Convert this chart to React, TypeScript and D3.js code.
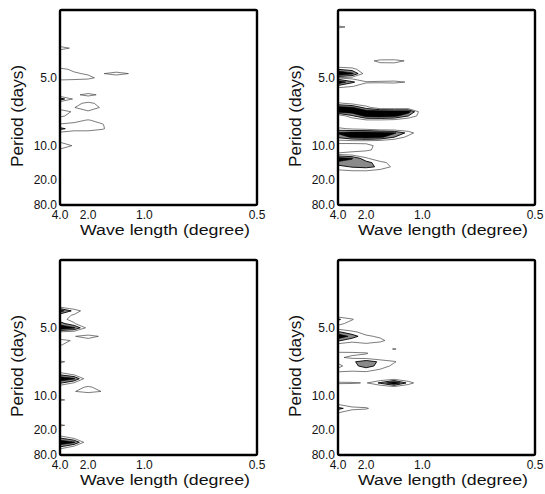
import React, { useRef, useEffect } from 'react';
import * as d3 from 'd3';

// axis tick labels
const waveTicks = [4.0, 2.0, 1.0, 0.5];      // wavelength (degree), axis is linear in 1/wavelength
const periodTicks = [5.0, 10.0, 20.0, 80.0]; // period (days), axis is linear in 1/period
const levels = [1, 2, 3];

// spectral grid: 15 wavenumbers x 47 frequencies
const NX = 15;
const NY = 47;
const K0 = 0.25, DK = 0.125;
const F0 = 2 / 160, DF = 1 / 160;

// non-zero grid cells [wavenumber index, frequency index, power]
const panelA = [
  [0, 37, 1.6], [1, 37, 0.7],
  [0, 32, 1.4], [1, 32, 0.7],
  [0, 31, 1.8], [1, 31, 1.2], [2, 31, 0.8], [3, 31, 0.92], [4, 31, 1.5], [5, 31, 0.92],
  [0, 30, 2.0], [1, 30, 1.7], [2, 30, 1.4], [3, 30, 0.5],
  [1, 26, 0.7], [2, 26, 1.4], [3, 26, 0.7],
  [0, 25, 2.6], [1, 25, 0.8],
  [1, 24, 0.6], [2, 24, 1.3], [3, 24, 0.6],
  [0, 23, 0.5], [1, 23, 0.95], [2, 23, 1.8], [3, 23, 0.8],
  [0, 22, 1.5], [1, 22, 0.85], [2, 22, 0.8],
  [0, 21, 1.2], [1, 21, 0.6],
  [0, 20, 0.3], [1, 20, 0.6], [2, 20, 1.1], [3, 20, 0.5],
  [0, 19, 1.1], [1, 19, 1.3], [2, 19, 1.6], [3, 19, 1.1],
  [0, 18, 2.3], [1, 18, 1.5], [2, 18, 1.6], [3, 18, 1.2],
  [0, 17, 0.7], [1, 17, 0.5], [2, 17, 0.4],
  [0, 15, 0.8], [0, 14, 1.8], [1, 14, 0.85], [0, 13, 0.8],
];

const panelB = [
  [0, 42, 1.3], [1, 42, 0.7],
  [2, 34, 0.6], [3, 34, 1.3], [4, 34, 1.35], [5, 34, 0.85],
  [3, 33, 0.6], [4, 33, 0.6],
  [0, 32, 2.0], [1, 32, 1.5],
  [0, 31, 4.5], [1, 31, 3.3], [2, 31, 0.3],
  [0, 30, 0.9], [1, 30, 0.6],
  [0, 29, 4.0], [1, 29, 2.2], [2, 29, 1.1], [3, 29, 1.2], [4, 29, 1.3], [5, 29, 0.9],
  [0, 28, 1.5], [1, 28, 1.05], [2, 28, 0.6],
  [0, 24, 1.2], [1, 24, 0.6],
  [0, 23, 3.5], [1, 23, 3.2], [2, 23, 1.5],
  [0, 22, 3.3], [1, 22, 3.6], [2, 22, 3.8], [3, 22, 3.8], [4, 22, 3.6], [5, 22, 3.6],
  [1, 21, 1.8], [2, 21, 3.4], [3, 21, 3.6], [4, 21, 3.4], [5, 21, 2.0], [6, 21, 0.3],
  [2, 20, 0.8], [3, 20, 0.8], [4, 20, 0.6],
  [0, 18, 1.3], [1, 18, 0.8], [2, 18, 0.5],
  [0, 17, 3.2], [1, 17, 3.6], [2, 17, 3.8], [3, 17, 3.6], [4, 17, 3.2], [5, 17, 1.6],
  [0, 16, 2.2], [1, 16, 3.2], [2, 16, 3.6], [3, 16, 3.3], [4, 16, 2.0], [5, 16, 0.6],
  [0, 15, 0.5], [1, 15, 0.5], [2, 15, 0.5], [3, 15, 0.3],
  [0, 14, 1.5], [1, 14, 1.5], [2, 14, 1.4], [3, 14, 0.6],
  [0, 13, 1.5], [1, 13, 1.5], [2, 13, 1.3], [3, 13, 0.5],
  [0, 12, 0.8], [1, 12, 0.4],
  [0, 11, 3.6], [1, 11, 3.1], [2, 11, 1.2],
  [0, 10, 2.8], [1, 10, 2.6], [2, 10, 2.4], [3, 10, 1.4], [4, 10, 0.5],
  [0, 9, 1.5], [1, 9, 2.1], [2, 9, 2.3], [3, 9, 1.8], [4, 9, 0.7],
  [0, 8, 0.8], [1, 8, 0.9], [2, 8, 0.9], [3, 8, 0.5],
];

const panelC = [
  [0, 35, 0.6],
  [0, 34, 3.6], [1, 34, 1.6], [2, 34, 0.3],
  [0, 33, 1.4], [1, 33, 0.9],
  [0, 32, 1.3], [1, 32, 0.7],
  [0, 31, 2.5], [1, 31, 1.1],
  [0, 30, 4.0], [1, 30, 3.2], [2, 30, 0.5],
  [0, 29, 0.8], [1, 29, 0.5],
  [1, 28, 0.95], [2, 28, 1.4], [3, 28, 0.85],
  [0, 27, 1.4], [1, 27, 0.85], [2, 27, 0.6],
  [0, 26, 1.1], [1, 26, 0.5],
  [0, 22, 1.2], [1, 22, 0.6], [0, 21, 0.5],
  [0, 19, 1.8], [1, 19, 0.8],
  [0, 18, 4.0], [1, 18, 3.2],
  [0, 17, 2.2], [1, 17, 0.9],
  [1, 16, 0.5], [2, 16, 1.2], [3, 16, 0.5],
  [1, 15, 0.95], [2, 15, 1.4], [3, 15, 0.96],
  [0, 13, 1.2], [1, 13, 0.6],
  [0, 7, 1.2], [1, 7, 0.6],
  [0, 4, 2.0], [1, 4, 0.8],
  [0, 3, 4.0], [1, 3, 3.2],
  [0, 2, 2.2], [1, 2, 0.8],
];

const panelD = [
  [0, 32, 2.2], [1, 32, 1.1],
  [0, 31, 1.4], [1, 31, 0.5],
  [0, 30, 0.4],
  [0, 29, 2.2], [1, 29, 1.3], [2, 29, 0.5],
  [0, 28, 4.0], [1, 28, 2.6], [2, 28, 1.2], [3, 28, 0.8], [4, 28, 0.3],
  [0, 27, 2.2], [1, 27, 1.3], [2, 27, 1.4], [3, 27, 1.3], [4, 27, 0.4],
  [0, 26, 0.6], [1, 26, 0.5], [2, 26, 0.8], [3, 26, 0.4],
  [4, 25, 1.15],
  [0, 24, 1.3], [1, 24, 1.25], [2, 24, 1.1], [3, 24, 0.3],
  [0, 23, 1.15], [1, 23, 0.8], [2, 23, 0.5],
  [0, 22, 1.2], [1, 22, 1.8], [2, 22, 2.6], [3, 22, 1.8], [4, 22, 1.1], [5, 22, 0.3],
  [0, 21, 0.7], [1, 21, 1.6], [2, 21, 2.5], [3, 21, 1.6], [4, 21, 0.7],
  [0, 20, 1.3], [1, 20, 1.2], [2, 20, 1.3], [3, 20, 0.8],
  [0, 19, 0.5], [1, 19, 0.3], [2, 19, 0.4],
  [4, 18, 0.5],
  [0, 17, 1.2], [1, 17, 1.15], [2, 17, 0.9], [3, 17, 2.2], [4, 17, 4.0], [5, 17, 1.6],
  [4, 16, 0.5],
  [0, 12, 0.9],
  [0, 11, 2.3], [1, 11, 1.5], [2, 11, 1.2],
  [0, 10, 1.1],
];

const panelCells = [panelA, panelB, panelC, panelD];
const panelOrigins = [[60, 10], [338, 10], [60, 260], [338, 260]];
const PW = 197;
const PH = 195;

const levelStyle = {
  1: { fill: 'none', stroke: '#444', width: 0.7 },
  2: { fill: '#8a8a8a', stroke: '#000', width: 0.9 },
  3: { fill: '#000', stroke: '#000', width: 0.6 },
};

const FONT = '"Liberation Sans", Arial, Helvetica, sans-serif';

const App = () => {
  const svgRef = useRef();

  useEffect(() => {
    const svg = d3.select(svgRef.current);
    svg.selectAll('*').remove();

    panelCells.forEach((cells, p) => {
      const [left, top] = panelOrigins[p];
      const x = d3.scaleLinear().domain([1 / 4, 2]).range([left, left + PW]);
      const y = d3.scaleLinear().domain([1 / 80, 0.3]).range([top + PH, top]);

      const grid = new Float64Array(NX * NY);
      cells.forEach(([c, r, v]) => { grid[r * NX + c] = v; });

      const contours = d3.contours().size([NX, NY]).thresholds(levels)(grid);

      const ring = d3.line()
        .x(d => x(K0 + (d[0] - 0.5) * DK))
        .y(d => y(F0 + (d[1] - 0.5) * DF))
        .curve(d3.curveLinearClosed);

      const clipId = `clip${p}`;
      svg.append('clipPath').attr('id', clipId)
        .append('rect').attr('x', left).attr('y', top).attr('width', PW).attr('height', PH);

      const g = svg.append('g').attr('clip-path', `url(#${clipId})`);
      contours.forEach(c => {
        const st = levelStyle[c.value];
        const d = c.coordinates.map(poly => poly.map(r => ring(r)).join('')).join('');
        if (!d) return;
        g.append('path')
          .attr('d', d)
          .attr('fill', st.fill)
          .attr('fill-rule', 'evenodd')
          .attr('stroke', st.stroke)
          .attr('stroke-width', st.width);
      });

      // frame
      svg.append('rect')
        .attr('x', left).attr('y', top).attr('width', PW).attr('height', PH)
        .attr('rx', 1.5)
        .attr('fill', 'none').attr('stroke', '#000').attr('stroke-width', 2.4);

      // y tick labels
      svg.append('g').selectAll('text').data(periodTicks).join('text')
        .attr('x', left - 3)
        .attr('y', d => y(1 / d) + 4.2)
        .attr('text-anchor', 'end')
        .attr('font-family', FONT).attr('font-size', 12).attr('fill', '#111')
        .text(d => d.toFixed(1));

      // x tick labels
      svg.append('g').selectAll('text').data(waveTicks).join('text')
        .attr('x', d => x(1 / d))
        .attr('y', top + PH + 13.5)
        .attr('text-anchor', 'middle')
        .attr('font-family', FONT).attr('font-size', 12).attr('fill', '#111')
        .text(d => d.toFixed(1));

      svg.append('text')
        .attr('x', left + 20).attr('y', top + PH + 29.5)
        .attr('textLength', 170).attr('lengthAdjust', 'spacingAndGlyphs')
        .attr('font-family', FONT).attr('font-size', 14).attr('fill', '#111')
        .text('Wave length (degree)');

      svg.append('text')
        .attr('transform', `translate(${left - 37.5},${top + 106}) rotate(-90)`)
        .attr('text-anchor', 'middle')
        .attr('textLength', 102).attr('lengthAdjust', 'spacingAndGlyphs')
        .attr('font-family', FONT).attr('font-size', 16).attr('fill', '#111')
        .text('Period (days)');
    });
  }, []);

  return (
    <svg ref={svgRef} width={545} height={494}
      style={{ position: 'absolute', left: 0, top: 0, background: '#fff' }} />
  );
};

export default App;
